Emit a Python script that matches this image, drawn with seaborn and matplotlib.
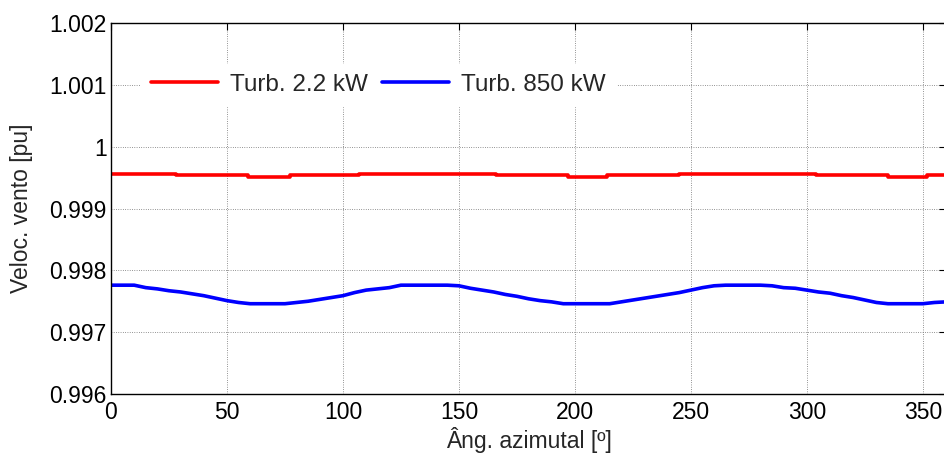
import numpy as np
import pandas as pd
import matplotlib
matplotlib.use("Agg")
import matplotlib.pyplot as plt
import seaborn as sns

# ---- data ----
red_x = [0, 28, 59, 77, 107, 166, 197, 214, 245, 304, 335, 352, 360]
red_y = [0.99956, 0.99954, 0.99951, 0.99954, 0.99956, 0.99954, 0.99951,
         0.99954, 0.99956, 0.99954, 0.99951, 0.99954, 0.99954]

blue_x = [0, 10, 15, 20, 25, 30, 35, 40, 45, 50, 55, 60, 65, 70, 75, 80, 85,
          90, 95, 100, 105, 110, 115, 120, 125, 130, 135, 140, 145, 150, 155,
          160, 165, 170, 175, 180, 185, 190, 195, 200, 205, 210, 215, 220,
          225, 230, 235, 240, 245, 250, 255, 260, 265, 270, 275, 280, 285,
          290, 295, 300, 305, 310, 315, 320, 325, 330, 335, 340, 345, 350,
          355, 360]
blue_y = [0.99776, 0.99776, 0.99772, 0.99770, 0.99767, 0.99765, 0.99762,
          0.99759, 0.99755, 0.99751, 0.99748, 0.99746, 0.99746, 0.99746,
          0.99746, 0.99748, 0.99750, 0.99753, 0.99756, 0.99759, 0.99764,
          0.99768, 0.99770, 0.99772, 0.99776, 0.99776, 0.99776, 0.99776,
          0.99776, 0.99775, 0.99771, 0.99768, 0.99765, 0.99761, 0.99758,
          0.99754, 0.99751, 0.99749, 0.99746, 0.99746, 0.99746, 0.99746,
          0.99746, 0.99749, 0.99752, 0.99755, 0.99758, 0.99761, 0.99764,
          0.99768, 0.99772, 0.99775, 0.99776, 0.99776, 0.99776, 0.99776,
          0.99775, 0.99772, 0.99771, 0.99768, 0.99765, 0.99763, 0.99759,
          0.99756, 0.99752, 0.99748, 0.99746, 0.99746, 0.99746, 0.99746,
          0.99748, 0.99749]

series_names = ["Turb. 2.2 kW", "Turb. 850 kW"]
x_ticks = [0, 50, 100, 150, 200, 250, 300, 350]
y_ticks = [0.996, 0.997, 0.998, 0.999, 1.0, 1.001, 1.002]
y_tick_labels = ["0.996", "0.997", "0.998", "0.999", "1", "1.001", "1.002"]
x_label = "Âng. azimutal [º]"
y_label = "Veloc. vento [pu]"

# ---- plotting ----
sns.set_style("white")
plt.rcParams["font.family"] = ["Liberation Sans", "DejaVu Sans"]

fig = plt.figure(figsize=(9.45, 4.59), dpi=100)
ax = fig.add_axes([111 / 945, (459 - 394) / 459, (946 - 111) / 945, (394 - 23) / 459])

df_red = pd.DataFrame({"x": red_x, "y": red_y})
df_blue = pd.DataFrame({"x": blue_x, "y": blue_y})

sns.lineplot(data=df_red, x="x", y="y", ax=ax, color="#ff0000", lw=2.6,
             drawstyle="steps-post", label=series_names[0])
sns.lineplot(data=df_blue, x="x", y="y", ax=ax, color="#0000ff", lw=2.6,
             label=series_names[1])

ax.set_xlim(0, 360)
ax.set_ylim(0.996, 1.002)
ax.set_xticks(x_ticks)
ax.set_yticks(y_ticks)
ax.set_yticklabels(y_tick_labels)
ax.tick_params(direction="in", length=5, width=0.8, top=True, right=True,
               labelsize=16.5, colors="black")
ax.tick_params(axis="x", pad=5)
ax.tick_params(axis="y", pad=3)
for lab in ax.get_xticklabels() + ax.get_yticklabels():
    lab.set_color("black")

ax.grid(True, color="#555555", linestyle=(0, (1, 2)), linewidth=0.55)
for sp in ax.spines.values():
    sp.set_color("black")
    sp.set_linewidth(1.0)

ax.set_xlabel(x_label, fontsize=16.5, labelpad=2)
ax.set_ylabel(y_label, fontsize=16.5, labelpad=12)

leg = ax.legend(loc="center left", bbox_to_anchor=(0.0215, 0.833), ncol=2,
                fontsize=17.5, frameon=True, facecolor="white",
                edgecolor="white", framealpha=1.0, fancybox=False,
                handlelength=2.75, handletextpad=0.5, columnspacing=0.6,
                borderpad=0.4)

fig.savefig("out.png", dpi=100)
